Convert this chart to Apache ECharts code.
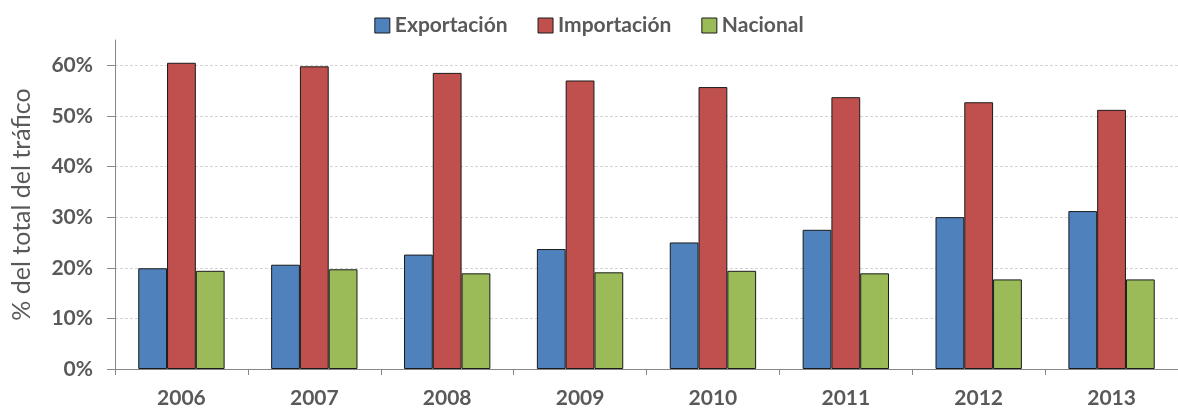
<!DOCTYPE html>
<html>
<head>
<meta charset="utf-8">
<style>
  html, body { margin: 0; padding: 0; background: #fff; }
  #chart { width: 1178px; height: 409px; }
</style>
<script src="https://cdn.jsdelivr.net/npm/echarts@6/dist/echarts.min.js"></script>
</head>
<body>
<div id="chart"></div>
<script>
// Share of total traffic by year (%)
const years = ['2006', '2007', '2008', '2009', '2010', '2011', '2012', '2013'];
const exportacion = [19.9, 20.6, 22.6, 23.7, 25.0, 27.5, 30.0, 31.2];
const importacion = [60.5, 59.8, 58.5, 57.0, 55.7, 53.7, 52.7, 51.2];
const nacional = [19.4, 19.7, 18.9, 19.1, 19.4, 18.9, 17.7, 17.7];
const yTicks = [0, 10, 20, 30, 40, 50, 60];

const FONT = 'Lato, "Open Sans", sans-serif';
const TEXT = '#595959';
const AXIS = '#868686';

function barSeries(name, data, color) {
  return {
    name: name,
    type: 'bar',
    data: data,
    barGap: '0%',
    barCategoryGap: '35%',
    itemStyle: { color: color, borderColor: '#1a1a1a', borderWidth: 1 }
  };
}

const chart = echarts.init(document.getElementById('chart'), null, { renderer: 'canvas' });
chart.setOption({
  animation: false,
  backgroundColor: '#ffffff',
  legend: {
    top: 10,
    left: 'center',
    itemWidth: 15,
    itemHeight: 15,
    itemGap: 30,
    icon: 'rect',
    textStyle: { fontFamily: FONT, fontSize: 21, fontWeight: 'bold', color: TEXT },
    data: ['Exportación', 'Importación', 'Nacional'].map(n => ({
      name: n,
      itemStyle: { borderColor: '#1a1a1a', borderWidth: 1 }
    }))
  },
  grid: { left: 115, right: -7, top: 40, bottom: 38, containLabel: false },
  xAxis: {
    type: 'category',
    data: years,
    axisLine: { lineStyle: { color: AXIS, width: 1 } },
    axisTick: { show: true, length: 6, lineStyle: { color: AXIS } },
    axisLabel: { fontFamily: FONT, fontSize: 21, fontWeight: 'bold', color: TEXT, margin: 19 },
    splitLine: { show: false }
  },
  yAxis: {
    type: 'value',
    min: 0,
    max: 65,
    interval: 10,
    name: '% del total del tráfico',
    nameLocation: 'middle',
    nameGap: 81,
    nameTextStyle: { fontFamily: FONT, fontSize: 25, color: TEXT },
    axisLine: { show: true, lineStyle: { color: AXIS, width: 1 } },
    axisTick: { show: true, length: 8, lineStyle: { color: AXIS }, customValues: yTicks },
    axisLabel: {
      fontFamily: FONT, fontSize: 21, fontWeight: 'bold', color: TEXT, margin: 22,
      customValues: yTicks,
      formatter: v => v + '%'
    },
    splitLine: {
      show: true,
      lineStyle: {
        type: [3, 2],
        width: 1,
        color: ['#d4d4d4', '#d4d4d4', '#d4d4d4', '#d4d4d4', '#d4d4d4', '#d4d4d4', '#d4d4d4', 'rgba(0,0,0,0)']
      }
    }
  },
  series: [
    barSeries('Exportación', exportacion, '#4F81BD'),
    barSeries('Importación', importacion, '#C0504D'),
    barSeries('Nacional', nacional, '#9BBB59')
  ]
});
</script>
</body>
</html>
